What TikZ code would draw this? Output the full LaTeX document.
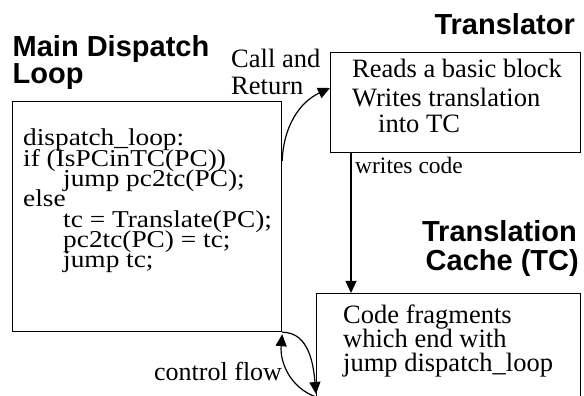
\documentclass[tikz,border=0pt]{standalone}
\usepackage{fontspec}
\setmainfont{Liberation Serif}
\newfontfamily\codefont[FakeStretch=1.13]{Liberation Serif}
\newfontfamily\titlefont{Liberation Sans}
\usetikzlibrary{arrows.meta}
\newcommand\mytightlines{\lineskiplimit=-50pt\relax\lineskip=0pt\relax}
\begin{document}
\begin{tikzpicture}[x=1pt,y=1pt,
  box/.style={draw, line width=1.2pt, inner sep=0pt, anchor=north west},
  arr/.style={line width=1.2pt, -{Triangle[length=12pt,width=11pt]}},
  ttl/.style={font=\titlefont\bfseries\fontsize{29}{27}\selectfont, inner sep=0pt},
  lbl/.style={font=\fontsize{26.5}{26.7}\selectfont, inner sep=0pt}]
\clip (0,0) rectangle (584,396);
\useasboundingbox (0,0) rectangle (584,396);
% boxes
\node[box, minimum width=269pt, minimum height=230pt] (main) at (12,295) {};
\node[box, minimum width=250pt, minimum height=100pt] (trans) at (330,344) {};
\node[box, minimum width=264pt, minimum height=120pt] (tc) at (316,103) {};
% titles
\node[ttl, anchor=base west] (t1) at (12.5,339.3) {Main Dispatch};
\node[ttl, anchor=base west] (t1b) at (12.5,312.7) {Loop};
\node[ttl, anchor=base east] (t2) at (575,361) {Translator};
\node[ttl, anchor=base east] (t3) at (577,154) {Translation};
\node[ttl, anchor=base east] (t3b) at (579,125) {Cache (TC)};
% code
\node[inner sep=0pt, anchor=north west, align=left,
      font=\codefont\fontsize{24.2}{20.3}\selectfont\mytightlines] (code) at (23,267) {%
dispatch\_loop:\\
if (IsPCinTC(PC))\\
\hspace*{40pt}jump pc2tc(PC);\\
else\\
\hspace*{40pt}tc = Translate(PC);\\
\hspace*{40pt}pc2tc(PC) = tc;\\
\hspace*{40pt}jump tc;};
% translator text
\node[lbl, anchor=base west] (r1) at (352,318) {Reads a basic block};
\node[lbl, anchor=base west] (r2) at (352,289) {Writes translation};
\node[lbl, anchor=base west] (r3) at (378,263) {into TC};
% TC text
\node[lbl, anchor=base west] (c1) at (343,72) {Code fragments};
\node[lbl, anchor=base west] (c2) at (343,48) {which end with};
\node[lbl, anchor=base west] (c3) at (343,24) {jump dispatch\_loop};
% labels
\node[lbl, anchor=base west] (cr1) at (231,328.3) {Call and};
\node[lbl, anchor=base west] (cr2) at (231,301.7) {Return};
\node[lbl, anchor=base west, font=\fontsize{23.5}{24}\selectfont] (wc) at (355,222) {writes code};
\node[lbl, anchor=base west, font=\fontsize{26}{26}\selectfont] (cf) at (154,15.3) {control flow};
% connectors
\coordinate (wa) at ([xshift=21pt]trans.south west);
\coordinate (wb) at ([xshift=35pt]tc.north west);
\draw[arr] (wa) -- (wb);
\coordinate (ca) at ([yshift=-60pt]main.north east);
\coordinate (cb) at ([yshift=-36pt]trans.north west);
\draw[arr] (ca) to[out=88, in=205] (cb);
\coordinate (da) at (main.south east);
\coordinate (db) at ([yshift=-101pt]tc.north west);
\coordinate (ua) at ([yshift=-104pt]tc.north west);
\coordinate (ub) at ([yshift=-2pt]main.south east);
\draw[arr] (da) to[out=0, in=95] (db);
\draw[arr] (ua) to[out=160, in=-95] (ub);
\end{tikzpicture}
\end{document}
